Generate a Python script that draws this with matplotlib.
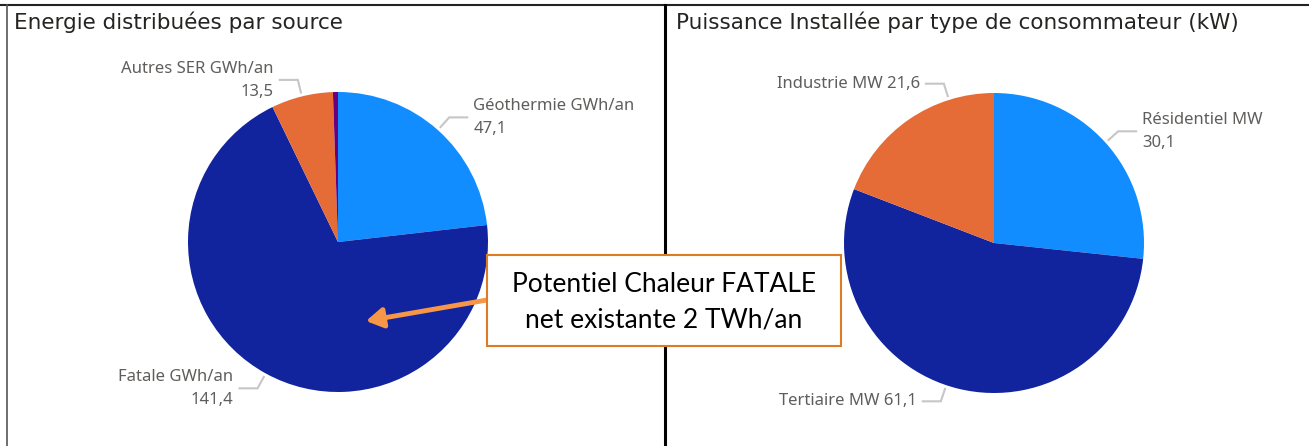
import numpy as np
import matplotlib
matplotlib.use("Agg")
import matplotlib.pyplot as plt

# données
src_labels = ["Géothermie GWh/an", "Fatale GWh/an", "Autres SER GWh/an", "Autre"]
src_values = [47.1, 141.4, 13.5, 1.1]
src_shown = [True, True, True, False]

cons_labels = ["Résidentiel MW", "Tertiaire MW", "Industrie MW"]
cons_values = [30.1, 61.1, 21.6]

colors = ["#118DFF", "#12239E", "#E66C37", "#6B007B"]

W, H = 1309, 446
fig = plt.figure(figsize=(W / 100, H / 100), dpi=100)

R = 150
centers = {"left": (338, 242), "right": (994, 243)}


def pie_axes(cx, cy):
    ax = fig.add_axes([(cx - R) / W, (H - cy - R) / H, 2 * R / W, 2 * R / H])
    return ax


# calque en pixels pour cadres, titres, étiquettes (au-dessus des camemberts)
over = fig.add_axes([0, 0, 1, 1], zorder=5)
over.set_xlim(0, W)
over.set_ylim(H, 0)
over.axis("off")
over.patch.set_alpha(0)


def fr(v):
    return f"{v:.1f}".replace(".", ",")


def leader(cx, cy, ang, side, lines):
    # ang en degrés, sens horaire depuis midi
    a = np.deg2rad(ang)
    ux, uy = np.sin(a), -np.cos(a)
    x0, y0 = cx + (R + 4) * ux, cy + (R + 4) * uy
    x1, y1 = x0 + 13 * ux, y0 + 13 * uy
    x2 = x1 + 18 * side
    over.plot([x0, x1, x2], [y0, y1, y1], color="#C8C6C4", lw=1.5,
              solid_joinstyle="miter")
    tx = x2 + 6 * side
    ha = "left" if side > 0 else "right"
    kw = dict(ha=ha, va="center", fontsize=12, color="#605E5C", family="Noto Sans")
    if len(lines) == 1:
        over.text(tx, y1, lines[0], **kw)
    else:
        over.text(tx, y1 - 11, lines[0], **kw)
        over.text(tx, y1 + 12, lines[1], **kw)


def mid_angles(values):
    tot = sum(values)
    start, out = 0.0, []
    for v in values:
        out.append(start + v / tot * 180)
        start += v / tot * 360
    return out


# camembert gauche
cx, cy = centers["left"]
axl = pie_axes(cx, cy)
axl.pie(src_values, colors=colors, startangle=90, counterclock=False,
        wedgeprops=dict(linewidth=0))
axl.set_xlim(-1, 1)
axl.set_ylim(-1, 1)

sides = [1, -1, -1, 0]
for lab, v, m, s, show in zip(src_labels, src_values, mid_angles(src_values), sides, src_shown):
    if show:
        leader(cx, cy, m, s, [lab, fr(v)])

# camembert droit
cx, cy = centers["right"]
axr = pie_axes(cx, cy)
axr.pie(cons_values, colors=colors[:3], startangle=90, counterclock=False,
        wedgeprops=dict(linewidth=0))
axr.set_xlim(-1, 1)
axr.set_ylim(-1, 1)

mids = mid_angles(cons_values)
# Power BI décale certaines étiquettes
angle_adj = [0, 5, 17]
leader(cx, cy, mids[0], 1, [cons_labels[0], fr(cons_values[0])])
leader(cx, cy, mids[1] + angle_adj[1], -1, [f"{cons_labels[1]} {fr(cons_values[1])}"])
leader(cx, cy, mids[2] + angle_adj[2], -1, [f"{cons_labels[2]} {fr(cons_values[2])}"])

# cadres
over.plot([0, W], [5, 5], color="#222222", lw=1.5)
over.plot([6.5, 6.5], [5, H], color="#555555", lw=1.2)
over.plot([665, 665], [5, H], color="black", lw=2.2)

# titres
over.text(14, 22, "Energie distribuées par source", fontsize=15.5,
          color="#252423", va="center", family="DejaVu Sans")
over.text(676, 22, "Puissance Installée par type de consommateur (kW)",
          fontsize=15.5, color="#252423", va="center", family="DejaVu Sans")

# encadré et flèche
over.add_patch(plt.Rectangle((487, 255), 354, 91, facecolor="white",
                             edgecolor="#E07B25", lw=1.5, zorder=5))
over.text(664, 284, "Potentiel Chaleur FATALE", ha="center", va="center",
          fontsize=19, family="Lato", color="black", zorder=6)
over.text(664, 320, "net existante 2 TWh/an", ha="center", va="center",
          fontsize=19, family="Lato", color="black", zorder=6)
over.annotate("", xy=(366, 321), xytext=(487, 300),
              arrowprops=dict(arrowstyle="-|>,head_length=1.0,head_width=0.6",
                              color="#F79646", lw=3.5, shrinkA=0, shrinkB=0),
              zorder=4)

fig.savefig("out.png", dpi=100)
